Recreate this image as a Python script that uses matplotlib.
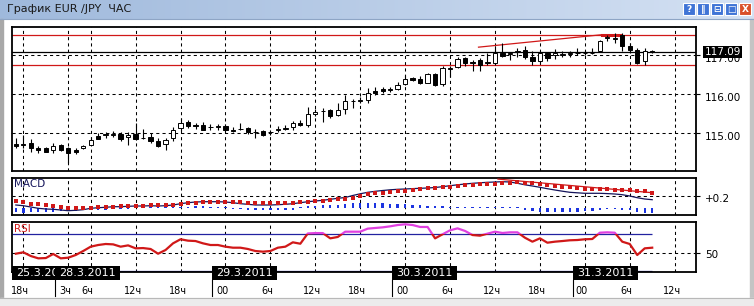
import numpy as np
import matplotlib.pyplot as plt
from matplotlib import transforms
from matplotlib.patches import Rectangle
from matplotlib.colors import LinearSegmentedColormap

plt.rcParams['font.family'] = ['DejaVu Sans']

# ---- data (bar index: 0 = 25.3 18:00, one bar per hour) ----
bars = list(range(-1, 85))

opens = [114.72, 114.72, 114.76, 114.63, 114.61, 114.56, 114.69, 114.61, 114.57, 114.61,
         114.71, 114.93, 114.95, 114.95, 114.98, 114.90, 114.98, 114.89, 114.91, 114.81,
         114.72, 114.87, 115.13, 115.30, 115.21, 115.21, 115.17, 115.16, 115.19, 115.07,
         115.10, 115.13, 115.03, 115.06, 115.02, 115.09, 115.12, 115.15, 115.27, 115.21,
         115.49, 115.57, 115.60, 115.47, 115.62, 115.83, 115.83, 115.85, 116.09, 116.13,
         116.12, 116.14, 116.27, 116.42, 116.38, 116.30, 116.51, 116.26, 116.66, 116.70,
         116.93, 116.82, 116.89, 116.81, 116.80, 117.06, 117.04, 117.09, 117.14, 116.95,
         116.85, 117.06, 117.02, 117.01, 117.03, 117.05, 117.06, 117.06, 117.12, 117.45,
         117.43, 117.53, 117.23, 117.14, 116.85, 117.10]
highs = [114.87, 114.96, 114.85, 114.68, 114.64, 114.74, 114.73, 114.64, 114.62, 114.71,
         114.91, 115.00, 115.04, 115.06, 115.03, 115.02, 115.26, 115.10, 115.00, 114.87,
         114.87, 115.15, 115.38, 115.34, 115.26, 115.30, 115.24, 115.23, 115.23, 115.17,
         115.26, 115.15, 115.10, 115.09, 115.08, 115.18, 115.21, 115.32, 115.34, 115.68,
         115.62, 115.64, 115.62, 115.77, 115.98, 115.87, 115.92, 116.15, 116.18, 116.18,
         116.18, 116.31, 116.49, 116.45, 116.46, 116.55, 116.55, 116.72, 116.72, 116.97,
         116.97, 116.89, 116.93, 117.06, 117.23, 117.32, 117.08, 117.19, 117.23, 117.12,
         117.10, 117.08, 117.17, 117.12, 117.12, 117.20, 117.12, 117.19, 117.40, 117.51,
         117.57, 117.57, 117.32, 117.20, 117.20, 117.14]
lows = [114.62, 114.62, 114.53, 114.50, 114.51, 114.49, 114.55, 114.23, 114.47, 114.59,
        114.70, 114.85, 114.87, 114.90, 114.81, 114.70, 114.83, 114.85, 114.76, 114.64,
        114.57, 114.81, 115.06, 115.13, 115.10, 115.09, 115.07, 115.09, 115.04, 115.04,
        115.09, 114.98, 114.87, 114.94, 114.96, 115.02, 115.08, 115.08, 115.18, 115.17,
        115.45, 115.30, 115.40, 115.43, 115.49, 115.64, 115.78, 115.77, 115.99, 116.04,
        116.06, 116.11, 116.24, 116.35, 116.26, 116.28, 116.22, 116.20, 116.45, 116.67,
        116.72, 116.59, 116.59, 116.76, 116.76, 116.97, 116.89, 116.97, 116.91, 116.76,
        116.80, 116.85, 116.91, 116.95, 116.95, 117.02, 117.00, 117.03, 117.09, 117.36,
        117.32, 117.12, 117.06, 116.78, 116.74, 117.05]
closes = [114.68, 114.71, 114.61, 114.57, 114.53, 114.68, 114.56, 114.50, 114.53, 114.68,
          114.83, 114.86, 114.97, 114.97, 114.85, 114.96, 114.85, 114.88, 114.81, 114.68,
          114.83, 115.07, 115.26, 115.19, 115.19, 115.09, 115.16, 115.18, 115.07, 115.06,
          115.11, 115.02, 115.04, 114.96, 115.04, 115.11, 115.14, 115.26, 115.20, 115.49,
          115.55, 115.58, 115.44, 115.60, 115.83, 115.84, 115.85, 116.04, 116.04, 116.09,
          116.13, 116.24, 116.40, 116.37, 116.30, 116.51, 116.24, 116.67, 116.68, 116.91,
          116.80, 116.81, 116.74, 116.83, 117.06, 116.98, 117.05, 117.10, 116.97, 116.86,
          117.06, 116.93, 117.05, 117.04, 117.05, 117.07, 117.07, 117.07, 117.37, 117.47,
          117.45, 117.23, 117.14, 116.80, 117.10, 117.09]

macd_main = [0.113, 0.106, 0.093, 0.080, 0.073, 0.070, 0.063, 0.056, 0.060, 0.066,
             0.080, 0.086, 0.090, 0.096, 0.096, 0.100, 0.103, 0.103, 0.106, 0.103,
             0.106, 0.113, 0.126, 0.136, 0.143, 0.146, 0.146, 0.146, 0.143, 0.136,
             0.126, 0.120, 0.113, 0.113, 0.113, 0.116, 0.120, 0.126, 0.136, 0.146,
             0.153, 0.160, 0.170, 0.180, 0.188, 0.208, 0.225, 0.240, 0.250, 0.258,
             0.265, 0.270, 0.273, 0.277, 0.280, 0.283, 0.288, 0.296, 0.306, 0.315,
             0.323, 0.330, 0.335, 0.340, 0.343, 0.346, 0.343, 0.330, 0.315, 0.303,
             0.290, 0.276, 0.263, 0.251, 0.240, 0.235, 0.230, 0.230, 0.230, 0.227,
             0.223, 0.216, 0.203, 0.186, 0.173, 0.166]
macd_signal = [0.153, 0.140, 0.123, 0.120, 0.113, 0.103, 0.096, 0.086, 0.083, 0.086,
               0.083, 0.090, 0.093, 0.096, 0.100, 0.103, 0.103, 0.106, 0.110, 0.110,
               0.113, 0.116, 0.123, 0.130, 0.136, 0.143, 0.146, 0.146, 0.146, 0.143,
               0.140, 0.136, 0.133, 0.133, 0.130, 0.130, 0.133, 0.133, 0.140, 0.146,
               0.153, 0.156, 0.163, 0.170, 0.176, 0.186, 0.203, 0.220, 0.230, 0.233,
               0.246, 0.253, 0.256, 0.266, 0.273, 0.280, 0.286, 0.293, 0.296, 0.303,
               0.310, 0.316, 0.323, 0.323, 0.326, 0.330, 0.336, 0.340, 0.333, 0.330,
               0.323, 0.313, 0.306, 0.296, 0.290, 0.280, 0.276, 0.276, 0.273, 0.270,
               0.266, 0.263, 0.263, 0.256, 0.250, 0.236]
macd_hist = [-0.040, -0.045, -0.040, -0.035, -0.040, -0.035, -0.030, -0.030, -0.025, -0.020,
             -0.020, -0.015, -0.015, -0.010, -0.010, -0.010, 0.010, 0.010, 0.010, 0.010,
             0.010, 0.010, 0.010, 0.015, 0.020, 0.020, 0.015, 0.010, 0.010, -0.010,
             -0.010, -0.015, -0.015, -0.020, -0.020, -0.020, -0.020, -0.020, 0.015, 0.020,
             0.025, 0.030, 0.030, 0.035, 0.040, 0.050, 0.050, 0.050, 0.050, 0.050,
             0.045, 0.040, 0.040, 0.035, 0.030, 0.025, 0.020, 0.020, 0.015, 0.015,
             0.010, 0.010, 0.010, 0.010, 0.010, 0.010, 0.010, 0.010, -0.020, -0.030,
             -0.035, -0.040, -0.040, -0.040, -0.040, -0.035, -0.030, -0.025, -0.015, -0.010,
             -0.010, -0.015, -0.020, -0.040, -0.045, -0.050]
hist_base = 0.08

rsi = [48.7, 50.2, 46.2, 43.7, 44.0, 48.4, 43.7, 44.4, 47.3, 51.6,
       56.3, 58.1, 59.2, 58.8, 56.3, 57.7, 54.5, 54.8, 53.8, 48.7,
       52.7, 59.9, 64.3, 62.8, 62.4, 59.9, 58.1, 58.1, 56.3, 55.2,
       55.2, 53.8, 51.6, 50.9, 51.6, 55.2, 56.3, 61.0, 59.5, 70.6,
       71.0, 71.0, 65.3, 66.8, 72.5, 72.5, 72.5, 75.8, 76.5, 77.2,
       78.3, 79.7, 80.5, 79.7, 77.6, 77.6, 65.3, 69.7, 74.0, 76.1,
       73.3, 68.9, 68.2, 70.4, 72.5, 71.1, 71.8, 71.8, 66.0, 61.7,
       65.3, 60.6, 61.7, 62.4, 63.2, 63.5, 64.3, 64.6, 71.4, 71.8,
       71.4, 61.7, 59.2, 47.3, 54.5, 55.2]

last_price = 117.09
resistance = 117.53
support = 116.75
trend_bars = [60.8, 77.3]
trend_prices = [117.21, 117.53]
macd_trend_bars = [63.4, 84.0]
macd_trend_vals = [0.372, 0.236]

grid_bars = [0, 6, 9, 15, 21, 27, 33, 39, 45, 51, 57, 63, 69, 75, 81, 87]
hour_labels = ['18ч', '3ч', '6ч', '12ч', '18ч', '00', '6ч', '12ч', '18ч', '00',
               '6ч', '12ч', '18ч', '00', '6ч', '12ч']
date_labels = ['25.3.2011', '28.3.2011', '29.3.2011', '30.3.2011', '31.3.2011']
date_starts = [-1.55, 4.23, 25.24, 49.29, 73.38]

price_ticks = [115, 116, 117]
price_labels = ['115.00', '116.00', '117.00']

RED = '#d01818'
MAGENTA = '#e040e0'
NAVY = '#14145a'
BLUE = '#1c34e0'
LEVEL_BLUE = '#2222a0'

W, H = 754, 306
fig = plt.figure(figsize=(W / 100, H / 100), dpi=100)


def px_axes(x0, y0, x1, y1):
    return fig.add_axes([x0 / W, 1 - y1 / H, (x1 - x0) / W, (y1 - y0) / H])


# ---- window frame ----
bg = fig.add_axes([0, 0, 1, 1])
grad = np.linspace(0, 1, 256).reshape(1, -1)
cmap = LinearSegmentedColormap.from_list('bar', ['#9fb9dc', '#d4e1f3'])
bg.imshow(grad, extent=(0, W, 19, 0), aspect='auto', cmap=cmap)
bg.set_xlim(0, W)
bg.set_ylim(H, 0)
bg.axis('off')
bg.plot([0, W], [19, 19], color='#8ea5c5', lw=0.8)
bg.text(7, 9.5, 'График EUR /JPY  ЧАС', va='center', ha='left', fontsize=8, color='#1a1a1a')
bg.add_patch(Rectangle((0, 19), 3, H - 19, color='#a8a8a8'))
bg.add_patch(Rectangle((750, 19), 4, H - 19, color='#c4c4c4'))
bg.add_patch(Rectangle((0, 298), W, 8, color='#ececec'))
bg.plot([0, W], [298, 298], color='#b8b8b8', lw=0.8)
for cx, glyph, col in zip([689, 703, 717, 731, 745], ['?', '‖', '⊟', '□', 'X'],
                          ['#3f74d6', '#3f74d6', '#3f74d6', '#3f74d6', '#d9502a']):
    bg.add_patch(Rectangle((cx - 6, 3), 12, 12, facecolor=col, edgecolor='white', lw=0.8))
    bg.text(cx, 9.3, glyph, ha='center', va='center', fontsize=6.5, color='white', fontweight='bold')

XMIN, XMAX = -1.51, 89.85
dash = (0, (3, 3))


def style_panel(ax):
    ax.set_xlim(XMIN, XMAX)
    for s in ax.spines.values():
        s.set_linewidth(1.3)
        s.set_color('black')
    for g in grid_bars:
        ax.axvline(g, color='black', lw=0.75, ls=dash, zorder=1)
    ax.yaxis.tick_right()
    ax.tick_params(axis='y', direction='out', length=3, width=0.8, pad=3.5, labelsize=7.5)
    ax.tick_params(axis='x', length=0, labelbottom=False)


def shift_labels(ax, dy_px):
    off = transforms.ScaledTranslation(0, -dy_px / 100, fig.dpi_scale_trans)
    for lab in ax.get_yticklabels():
        lab.set_transform(lab.get_transform() + off)


# ---- price panel ----
ax = px_axes(12, 27.3, 696, 171)
style_panel(ax)
ax.set_ylim(114.03, 117.72)
ax.set_yticks(price_ticks, price_labels)
for p in price_ticks:
    ax.axhline(p, color='black', lw=0.75, ls=dash, zorder=1)
ax.axhline(resistance, color=RED, lw=0.9, zorder=2)
ax.axhline(support, color=RED, lw=0.9, zorder=2)
ax.axhline(last_price, color='black', lw=0.9, zorder=2)
ax.plot(trend_bars, trend_prices, color=RED, lw=0.9, zorder=2)
ax.plot([trend_bars[1], trend_bars[1] + 2.4], [resistance, resistance], color=RED, lw=2.2, zorder=2)

ax.vlines(bars, lows, highs, color='black', lw=0.8, zorder=3)
o = np.array(opens)
c = np.array(closes)
fills = ['white' if cc > oo else 'black' for oo, cc in zip(o, c)]
ax.bar(bars, np.abs(c - o), bottom=np.minimum(o, c), width=0.58, color=fills,
       edgecolor='black', linewidth=0.7, zorder=4)
shift_labels(ax, 2.4)
ax.text(1.0125, last_price, f'{last_price:.2f}', transform=transforms.blended_transform_factory(ax.transAxes, ax.transData),
        ha='left', va='center', fontsize=7.5, color='white', zorder=10, clip_on=False,
        bbox=dict(boxstyle='square,pad=0.12', fc='black', ec='none'))

# ---- MACD panel ----
am = px_axes(12, 177.7, 696, 215)
style_panel(am)
am.set_ylim(0.013, 0.386)
am.set_yticks([0.2], ['+0.2'])
am.axhline(0.2, color='black', lw=0.75, ls=dash, zorder=1)
am.bar(bars, macd_hist, bottom=hist_base, width=0.32, color=BLUE, zorder=2)
am.plot(bars, macd_main, color=NAVY, lw=0.9, zorder=3)
am.plot(bars, macd_signal, 's', ms=2.7, mew=0, color=RED, zorder=4)
am.plot(macd_trend_bars, macd_trend_vals, color=RED, lw=0.9, zorder=4)
am.text(0.003, 0.96, 'MACD', transform=am.transAxes, ha='left', va='top', fontsize=7.5, color=NAVY)
shift_labels(am, 2.0)

# ---- RSI panel ----
ar = px_axes(12, 221.7, 696, 272.3)
style_panel(ar)
ar.set_ylim(28.6, 83.3)
ar.set_yticks([50], ['50'])
ar.axhline(50, color='black', lw=0.75, ls=dash, zorder=1)
ar.hlines([70, 30], XMIN, bars[-1], color=LEVEL_BLUE, lw=0.9, zorder=2)
lo, = ar.plot(bars, rsi, color=RED, lw=1.6, zorder=3)
hi, = ar.plot(bars, rsi, color=MAGENTA, lw=1.6, zorder=3)
lo.set_clip_path(Rectangle((XMIN, 0), XMAX - XMIN, 70, transform=ar.transData))
hi.set_clip_path(Rectangle((XMIN, 70), XMAX - XMIN, 40, transform=ar.transData))
ar.text(0.003, 0.96, 'RSI', transform=ar.transAxes, ha='left', va='top', fontsize=7.5, color=RED)
shift_labels(ar, 1.7)

ar.set_xticks([g - 0.4 for g in grid_bars], hour_labels)
ar.tick_params(axis='x', length=0, pad=10, labelsize=7, labelbottom=True)

blend = transforms.blended_transform_factory(ar.transData, ar.transAxes)
box_w = 8.68
for i, (lab, x0) in enumerate(zip(date_labels, date_starts)):
    z = 10 + 2 * i
    w = box_w if i > 0 else date_starts[1] - x0
    box = Rectangle((x0, -0.152), w, 0.277, transform=blend, facecolor='black',
                    edgecolor='none', clip_on=False, zorder=z)
    ar.add_patch(box)
    if i == 0:
        # first date label is cut off by the next box, as in the terminal
        t = ar.text(x0 + 0.6, -0.014, lab, transform=blend, ha='left', va='center', fontsize=8,
                    color='white', zorder=z + 1)
        t.set_clip_path(Rectangle((x0, -0.152), w, 0.277, transform=blend))
    else:
        ar.text(x0 + box_w / 2, -0.014, lab, transform=blend, ha='center', va='center', fontsize=8,
                color='white', zorder=z + 1, clip_on=False)
        ar.plot([x0, x0], [-0.152, -0.47], transform=blend, color='black', lw=0.8,
                clip_on=False, zorder=z)

fig.savefig('out.png', dpi=100)
